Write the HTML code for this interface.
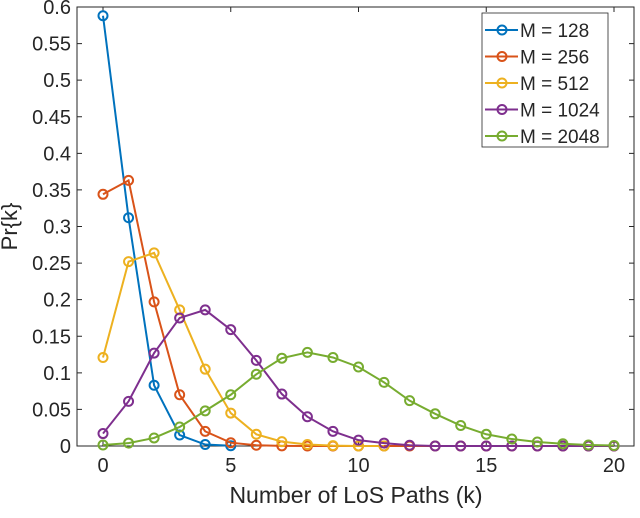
<!DOCTYPE html>
<html><head><meta charset="utf-8"><style>
body{margin:0;background:#fff;}
svg text{font-family:"Liberation Sans",sans-serif;fill:#262626;}
</style></head><body>
<svg id="chart" width="640" height="513" xmlns="http://www.w3.org/2000/svg"></svg>
<script>
const kValues=[0,1,2,3,4,5,6,7,8,9,10,11,12,13,14,15,16,17,18,19,20];
const seriesNames=["M = 128","M = 256","M = 512","M = 1024","M = 2048"];
const seriesColors=["#0072BD","#D95319","#EDB120","#7E2F8E","#77AC30"];
const m128=[0.588,0.312,0.083,0.015,0.002,0.0003];
const m256=[0.344,0.363,0.197,0.070,0.020,0.0045,0.001,0.0002,0,0,0,0,0,0,0,0,0,0,0,0,0];
const m512=[0.121,0.252,0.264,0.186,0.105,0.045,0.016,0.006,0.002,0.0005,0,0];
const m1024=[0.017,0.061,0.127,0.175,0.186,0.159,0.117,0.071,0.040,0.020,0.008,0.004,0.001,0,0,0,0,0,0,0,0];
const m2048=[0.0014,0.004,0.011,0.026,0.048,0.070,0.098,0.120,0.128,0.121,0.108,0.087,0.062,0.044,0.028,0.016,0.0095,0.0055,0.003,0.0014,0.0007];
const xTicks=[0,5,10,15,20];
const yTicks=[0,0.05,0.1,0.15,0.2,0.25,0.3,0.35,0.4,0.45,0.5,0.55,0.6];
const yTickLabels=["0","0.05","0.1","0.15","0.2","0.25","0.3","0.35","0.4","0.45","0.5","0.55","0.6"];
const allSeries=[m128,m256,m512,m1024,m2048];

const NS="http://www.w3.org/2000/svg";
const svg=document.getElementById('chart');
const L=77,R=634,T=7,B=446;
const yMin=0,yMax=0.6;
function xs(v){return 103+(v-0)*(614-103)/20;}
function ys(v){return B-(v-yMin)*(B-T)/(yMax-yMin);}
function mk(tag,attrs,parent){const e=document.createElementNS(NS,tag);for(const k in attrs)e.setAttribute(k,attrs[k]);(parent||svg).appendChild(e);return e;}

const box=mk('rect',{x:L,y:T,width:R-L,height:B-T,fill:'#fff',stroke:'#262626','stroke-width':1});



xTicks.forEach(t=>{
  const x=xs(t);
  const tk=mk('path',{d:`M${x},${B}v-5M${x},${T}v5`,stroke:'#262626','stroke-width':1});
  
  
  const tx=mk('text',{x:x,y:B+26,'text-anchor':'middle','font-size':20});
  tx.textContent=t;
  
  
});
yTicks.forEach((t,i)=>{
  const y=ys(t);
  const tk=mk('path',{d:`M${L},${y}h5M${R},${y}h-5`,stroke:'#262626','stroke-width':1});
  
  
  const tx=mk('text',{x:L-6,y:y+7,'text-anchor':'end','font-size':20});
  tx.textContent=yTickLabels[i];
  
  
});

allSeries.forEach((s,si)=>{
  const g=mk('g',{});
  
  
  const pts=s.map((v,i)=>xs(kValues[i])+','+ys(v)).join(' ');
  mk('polyline',{points:pts,fill:'none',stroke:seriesColors[si],'stroke-width':2},g);
  s.forEach((v,i)=>{
    const c=mk('circle',{cx:xs(kValues[i]),cy:ys(v),r:4.5,fill:'none',stroke:seriesColors[si],'stroke-width':2},g);
    
    
  });
});

const xl=mk('text',{x:356,y:503,'text-anchor':'middle','font-size':23});
xl.textContent='Number of LoS Paths (k)';


const yl=mk('text',{x:0,y:0,'text-anchor':'middle','font-size':22,transform:`translate(17,${(T+B)/2}) rotate(-90)`});
yl.textContent='Pr{k}';



const lg=mk('g',{});


mk('rect',{x:482,y:13,width:126,height:134,fill:'#fff',stroke:'#262626','stroke-width':0.8},lg);
seriesNames.forEach((n,i)=>{
  const y=30+i*26.5;
  const e=mk('g',{},lg);
  
  
  mk('line',{x1:485,x2:518,y1:y,y2:y,stroke:seriesColors[i],'stroke-width':2},e);
  mk('circle',{cx:502,cy:y,r:4.5,fill:'none',stroke:seriesColors[i],'stroke-width':2},e);
  const t=mk('text',{x:520,y:y+7,'font-size':19,fill:'#000'},e);
  t.textContent=n;
});
</script>
</body></html>
